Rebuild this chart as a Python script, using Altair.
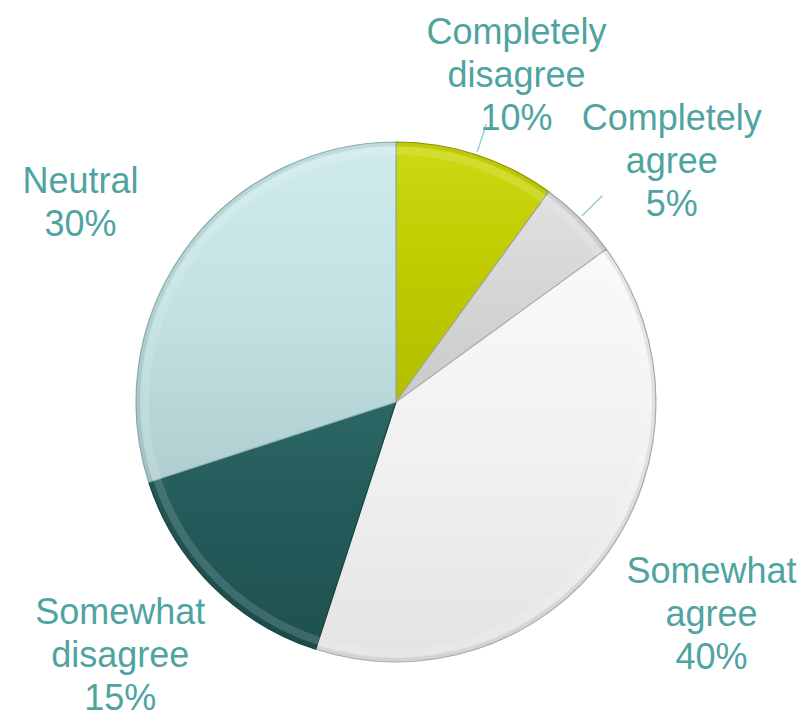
import altair as alt
import pandas as pd

# ---- data ----
categories = ["Completely disagree", "Completely agree", "Somewhat agree",
              "Somewhat disagree", "Neutral"]
label_lines = [["Completely", "disagree"], ["Completely", "agree"],
               ["Somewhat", "agree"], ["Somewhat", "disagree"], ["Neutral"]]
values = [10, 5, 40, 15, 30]

df = pd.DataFrame({
    "category": categories,
    "value": values,
    "order": list(range(len(categories))),
    "label": ["\n".join(l + [f"{v}%"]) for l, v in zip(label_lines, values)],
    "nlines": [len(l) + 1 for l in label_lines],
})

# ---- styles (per slice: gradient stops top->bottom, stroke) ----
styles = {
    "Completely disagree": (["#cdd912", "#bfcb00", "#b3be00"], "#8f9800"),
    "Completely agree": (["#e0e0e0", "#d5d5d5", "#cacaca"], "#a8a8a8"),
    "Somewhat agree": (["#f9f9f9", "#f1f1f1", "#e3e3e3"], "#b0b0b0"),
    "Somewhat disagree": (["#2b6665", "#235a59", "#1e5150"], "#174342"),
    "Neutral": (["#d0ebec", "#c2e1e3", "#afcecf"], "#8fb1b3"),
}
TEXT_COLOR = "#4fa4a1"
R = 260
CX, CY = 396, 319          # pie centre inside the plot area
LINE_H = 43

base = alt.Chart(df).transform_window(
    end="sum(value)", sort=[alt.SortField("order")], frame=[None, 0]
).transform_calculate(
    start="datum.end - datum.value",
    mid="datum.end - datum.value / 2",
).transform_calculate(
    a="datum.mid * 2 * PI / 100"
)

theta_scale = alt.Scale(domain=[0, 100])

layers = []
for cat in categories:
    stops, stroke = styles[cat]
    grad = alt.LinearGradient(
        gradient="linear",
        stops=[alt.GradientStop(color=c, offset=i / (len(stops) - 1))
               for i, c in enumerate(stops)],
        x1=0, x2=0, y1=0, y2=1,
    )
    layers.append(
        base.transform_filter(alt.datum.category == cat)
        .mark_arc(outerRadius=R, color=grad, stroke=stroke, strokeWidth=1.2)
        .encode(
            theta=alt.Theta("start:Q", scale=theta_scale),
            theta2="end:Q",
        )
    )

# subtle bevel: light highlight ring just inside the rim, darker edge at rim
highlight = base.mark_arc(
    innerRadius=R - 13, outerRadius=R - 5, color="white", opacity=0.14,
).encode(theta=alt.Theta("start:Q", scale=theta_scale), theta2="end:Q")
rim = base.mark_arc(
    innerRadius=R - 4, outerRadius=R, color="black", opacity=0.07,
).encode(theta=alt.Theta("start:Q", scale=theta_scale), theta2="end:Q")

leaders = base.transform_filter("datum.value < 12").transform_calculate(
    lx1=f"{CX} + 263 * sin(datum.a)",
    ly1=f"{CY} - 263 * cos(datum.a)",
    lx2=f"{CX} + 292 * sin(datum.a)",
    ly2=f"{CY} - 292 * cos(datum.a)",
).mark_rule(color="#93cfd1", strokeWidth=1.5).encode(
    x=alt.X("lx1:Q", scale=None),
    y=alt.Y("ly1:Q", scale=None),
    x2="lx2:Q",
    y2="ly2:Q",
)

labels = base.transform_calculate(
    tx=f"{CX} + 390 * sin(datum.a)",
    ty=f"{CY} + 7 - 350 * cos(datum.a) - (datum.nlines - 1) * {LINE_H} / 2",
).mark_text(
    font="Liberation Sans", fontSize=36, lineHeight=LINE_H, color=TEXT_COLOR,
    align="center", baseline="middle", lineBreak="\n",
).encode(
    x=alt.X("tx:Q", scale=None),
    y=alt.Y("ty:Q", scale=None),
    text="label:N",
)

chart = alt.layer(*layers, highlight, rim, leaders, labels).properties(
    width=792, height=638,
    padding={"left": 0, "top": 83, "right": 16, "bottom": 0},
    autosize=alt.AutoSizeParams(type="none"),
    background="white",
).configure_view(stroke=None)

chart.save("out.html", embed_options={"renderer": "svg", "actions": False})
